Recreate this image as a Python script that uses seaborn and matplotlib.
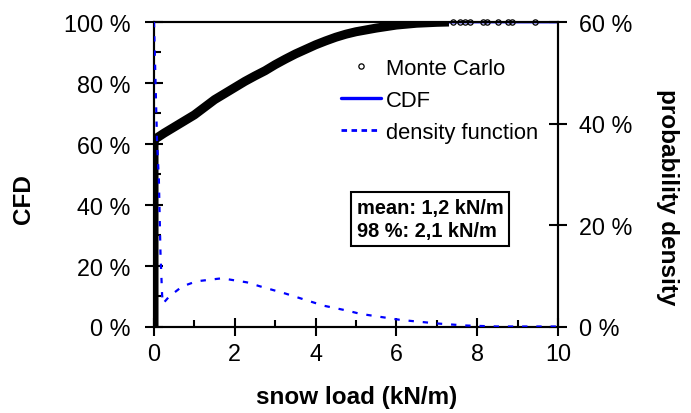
import matplotlib
matplotlib.use("Agg")
import matplotlib.pyplot as plt
from matplotlib.ticker import MultipleLocator, FixedLocator, FuncFormatter
from matplotlib.lines import Line2D
import pandas as pd
import seaborn as sns

# ---- data ----
# Monte Carlo empirical CFD (dense band of sample points), snow load in kN/m, CFD in %
mc_x = [0, 0, 0.02, 0.25, 0.5, 0.75, 1.0, 1.25, 1.5, 1.75, 2.0, 2.25, 2.5, 2.75, 3.0,
        3.25, 3.5, 3.75, 4.0, 4.25, 4.5, 4.75, 5.0, 5.5, 6.0, 6.5, 7.0, 7.3]
mc_cfd = [0, 61.0, 61.5, 63.5, 65.5, 67.5, 69.5, 72.0, 74.5, 76.5, 78.5, 80.5, 82.3, 84.0, 86.0,
          87.8, 89.5, 91.0, 92.5, 93.8, 95.0, 96.0, 96.8, 98.0, 99.0, 99.6, 99.9, 100.0]
# isolated Monte Carlo samples in the upper tail
mc_tail_x = [7.4, 7.57, 7.7, 7.82, 8.14, 8.24, 8.51, 8.76, 8.86, 9.43]
mc_tail_cfd = [100, 100, 100, 100, 100, 100, 100, 100, 100, 100]

# fitted CDF (%)
cdf_x = [0, 0, 0.02, 0.5, 1.0, 1.5, 2.0, 2.5, 3.0, 3.5, 4.0, 4.5, 5.0, 5.5, 6.0, 6.5, 7.0, 7.5, 10.0]
cdf_y = [0, 61.0, 61.5, 65.5, 69.5, 74.5, 78.5, 82.3, 86.0, 89.5, 92.5, 95.0, 96.8, 98.0, 99.0, 99.6, 99.9, 100.0, 100.0]

# density function (%)
dens_x = [0, 0.075, 0.12, 0.16, 0.2, 0.22, 0.375, 0.7, 1.05, 1.68, 2.3, 2.63, 3.25, 4.2, 4.8,
          5.1, 6.1, 7.0, 7.7, 8.5, 10.0]
dens_y = [60, 36.5, 29, 14.6, 6.3, 4.5, 5.9, 7.9, 8.9, 9.5, 8.7, 7.9, 6.5, 4.1, 3.1,
          2.5, 1.3, 0.6, 0.2, 0.0, 0.0]

x_ticks = [0, 2, 4, 6, 8, 10]
cfd_ticks = [0, 20, 40, 60, 80, 100]
dens_ticks = [0, 20, 40, 60]
legend_labels = ["Monte Carlo", "CDF", "density function"]
stats_lines = ["mean: 1,2 kN/m", "98 %: 2,1 kN/m"]

# ---- style ----
sns.set_theme(style="ticks")
plt.rcParams["font.family"] = ["Liberation Sans", "DejaVu Sans"]
plt.rcParams["text.color"] = "black"
plt.rcParams["axes.labelcolor"] = "black"
BLUE = "#0000FF"

W, H = 691, 414
fig = plt.figure(figsize=(W / 100, H / 100), dpi=100)
L, R, T, B = 154, 558, 23, 327.5
ax = fig.add_axes([L / W, (H - B) / H, (R - L) / W, (B - T) / H])
ax2 = ax.twinx()

mc_df = pd.DataFrame({"x": mc_x, "y": mc_cfd})
tail_df = pd.DataFrame({"x": mc_tail_x, "y": mc_tail_cfd})
cdf_df = pd.DataFrame({"x": cdf_x, "y": cdf_y})
dens_df = pd.DataFrame({"x": dens_x, "y": dens_y})

# fitted CDF (under the Monte Carlo cloud)
sns.lineplot(data=cdf_df, x="x", y="y", ax=ax, sort=False, estimator=None,
             color=BLUE, linewidth=2.0, zorder=2)
# dense Monte Carlo cloud
sns.lineplot(data=mc_df, x="x", y="y", ax=ax, sort=False, estimator=None,
             color="black", linewidth=6.5, zorder=3, solid_capstyle="butt")
# isolated Monte Carlo samples
ax.plot(tail_df["x"], tail_df["y"], linestyle="none", marker="o", markersize=3.8,
        markerfacecolor="none", markeredgecolor="black", markeredgewidth=0.9, zorder=4,
        clip_on=False)

# density function on the right axis
sns.lineplot(data=dens_df, x="x", y="y", ax=ax2, sort=False, estimator=None,
             color=BLUE, linewidth=1.6, zorder=5)
ax2.get_lines()[0].set_dashes((2.4, 4.0))

# ---- axes ----
ax.set_xlim(0, 10)
ax.set_ylim(0, 100)
ax2.set_ylim(0, 60)
ax.xaxis.set_major_locator(FixedLocator(x_ticks))
ax.xaxis.set_minor_locator(MultipleLocator(1))
ax.yaxis.set_major_locator(FixedLocator(cfd_ticks))
ax.yaxis.set_minor_locator(MultipleLocator(10))
ax2.yaxis.set_major_locator(FixedLocator(dens_ticks))
pct = FuncFormatter(lambda v, p: f"{v:.0f} %")
ax.yaxis.set_major_formatter(pct)
ax2.yaxis.set_major_formatter(pct)
ax.xaxis.set_major_formatter(FuncFormatter(lambda v, p: f"{v:.0f}"))

for a in (ax, ax2):
    for s in a.spines.values():
        s.set_visible(True)
        s.set_linewidth(1.5)
        s.set_color("black")

TICK_FS = 16.8
ax.tick_params(axis="x", which="major", direction="inout", length=13, width=1.5,
               colors="black", labelsize=TICK_FS, pad=5, bottom=True, top=False)
ax.tick_params(axis="y", which="major", direction="inout", length=13, width=1.5,
               colors="black", labelsize=TICK_FS, pad=10.5, left=True, right=False)
ax.tick_params(which="minor", direction="in", length=5, width=1.5, colors="black")
ax.tick_params(axis="y", which="minor", left=True, right=False)
ax.tick_params(axis="x", which="minor", bottom=True, top=False)
ax2.tick_params(axis="y", which="major", direction="inout", length=13, width=1.5,
                colors="black", labelsize=TICK_FS, pad=8.5, right=True, left=False)
ax2.tick_params(axis="y", which="minor", right=False)

LAB_FS = 17.5
ax.set_xlabel("snow load (kN/m)", fontsize=LAB_FS, fontweight="bold", va="center")
ax.set_ylabel("CFD", fontsize=LAB_FS, fontweight="bold", va="center")
ax2.set_ylabel("probability density", fontsize=LAB_FS, fontweight="bold", va="center",
               rotation=270)
ax.xaxis.set_label_coords((357 - L) / (R - L), (B - 398) / (B - T))
ax.yaxis.set_label_coords((24 - L) / (R - L), (B - 199) / (B - T))
ax2.yaxis.set_label_coords((667 - L) / (R - L), (B - 197) / (B - T))

# ---- stats box ----
ax.text((356.5 - L) / (R - L), (B - 220) / (B - T), "\n".join(stats_lines),
        transform=ax.transAxes, ha="left", va="center", fontsize=14.4,
        fontweight="bold", linespacing=1.3, zorder=6,
        bbox=dict(boxstyle="square,pad=0.3", facecolor="white", edgecolor="black",
                  linewidth=1.5))

# ---- legend ----
handles = [
    Line2D([], [], linestyle="none", marker="o", markersize=3.8, markerfacecolor="none",
           markeredgecolor="black", markeredgewidth=0.9),
    Line2D([], [], color=BLUE, linewidth=2.4),
    Line2D([], [], color=BLUE, linewidth=2.0, dashes=(2.0, 1.6)),
]
leg = fig.legend(handles, legend_labels, loc="upper left",
                 bbox_to_anchor=(340.7 / W, 1 - 59 / H), frameon=False,
                 fontsize=15.8, handlelength=1.82, handletextpad=0.25,
                 labelspacing=0.5, borderpad=0, borderaxespad=0)

fig.savefig("out.png", dpi=100)
